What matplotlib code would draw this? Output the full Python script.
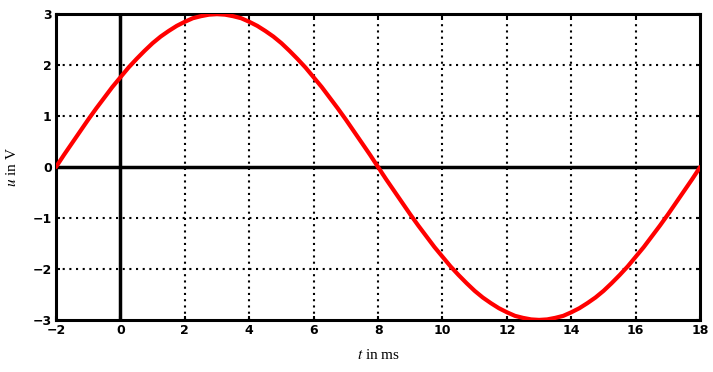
import matplotlib.pyplot as plt

# Werte (t in ms, u in V), Schrittweite 0.25 ms
t_ms = [-2.0, -1.75, -1.5, -1.25, -1.0, -0.75, -0.5, -0.25,
        0.0, 0.25, 0.5, 0.75, 1.0, 1.25, 1.5, 1.75,
        2.0, 2.25, 2.5, 2.75, 3.0, 3.25, 3.5, 3.75,
        4.0, 4.25, 4.5, 4.75, 5.0, 5.25, 5.5, 5.75,
        6.0, 6.25, 6.5, 6.75, 7.0, 7.25, 7.5, 7.75,
        8.0, 8.25, 8.5, 8.75, 9.0, 9.25, 9.5, 9.75,
        10.0, 10.25, 10.5, 10.75, 11.0, 11.25, 11.5, 11.75,
        12.0, 12.25, 12.5, 12.75, 13.0, 13.25, 13.5, 13.75,
        14.0, 14.25, 14.5, 14.75, 15.0, 15.25, 15.5, 15.75,
        16.0, 16.25, 16.5, 16.75, 17.0, 17.25, 17.5, 17.75, 18.0]
u_volt = [0.00, 0.24, 0.47, 0.70, 0.93, 1.15, 1.36, 1.57,
          1.76, 1.95, 2.12, 2.28, 2.43, 2.56, 2.67, 2.77,
          2.85, 2.92, 2.96, 2.99, 3.00, 2.99, 2.96, 2.92,
          2.85, 2.77, 2.67, 2.56, 2.43, 2.28, 2.12, 1.95,
          1.76, 1.57, 1.36, 1.15, 0.93, 0.70, 0.47, 0.24,
          0.00, -0.24, -0.47, -0.70, -0.93, -1.15, -1.36, -1.57,
          -1.76, -1.95, -2.12, -2.28, -2.43, -2.56, -2.67, -2.77,
          -2.85, -2.92, -2.96, -2.99, -3.00, -2.99, -2.96, -2.92,
          -2.85, -2.77, -2.67, -2.56, -2.43, -2.28, -2.12, -1.95,
          -1.76, -1.57, -1.36, -1.15, -0.93, -0.70, -0.47, -0.24, 0.00]

x_ticks = [-2, 0, 2, 4, 6, 8, 10, 12, 14, 16, 18]
y_ticks = [-3, -2, -1, 0, 1, 2, 3]

plt.rcParams['mathtext.fontset'] = 'stix'

fig = plt.figure(figsize=(7.13, 3.72), dpi=100)
ax = fig.add_axes([0.0785, 0.14, 0.9035, 0.822])

# Gitter (gepunktet)
for x in x_ticks[1:-1]:
    if x != 0:
        ax.axvline(x, color='black', linestyle=(0, (1, 2.0)), linewidth=1.5, zorder=1)
for y in y_ticks[1:-1]:
    if y != 0:
        ax.axhline(y, color='black', linestyle=(0, (1, 2.2)), linewidth=1.5, zorder=1)

# Achsen durch den Ursprung
ax.axhline(0, color='black', linewidth=2.5, zorder=2)
ax.axvline(0, color='black', linewidth=2.5, zorder=2)

ax.plot(t_ms, u_volt, color='#ff0000', linewidth=3, zorder=3,
        solid_capstyle='round', solid_joinstyle='round')

ax.set_xlim(-2, 18)
ax.set_ylim(-3, 3)
ax.set_xticks(x_ticks)
ax.set_yticks(y_ticks)
ax.set_xticklabels([str(v).replace('-', '\u2212') for v in x_ticks])
ax.set_yticklabels([str(v).replace('-', '\u2212') for v in y_ticks])
ax.tick_params(direction='in', length=3, width=1.5, labelsize=9, pad=3,
               top=True, right=True)
for lab in ax.get_xticklabels() + ax.get_yticklabels():
    lab.set_fontweight('bold')

for s in ax.spines.values():
    s.set_linewidth(2.2)

ax.set_xlabel(r'$t$ in ms', fontsize=11, family='Liberation Serif', labelpad=8)
ax.set_ylabel(r'$u$ in V', fontsize=11, family='Liberation Serif', labelpad=10)

fig.savefig('out.png', dpi=100)
plt.close(fig)
